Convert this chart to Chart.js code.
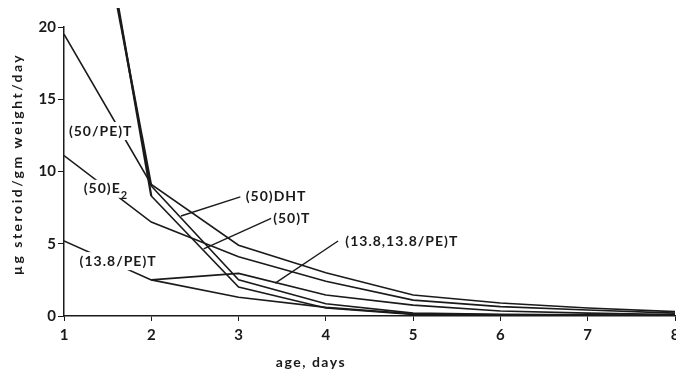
<!DOCTYPE html>
<html>
<head>
<meta charset="utf-8">
<script src="https://cdn.jsdelivr.net/npm/chart.js@4.4.0/dist/chart.umd.min.js"></script>
<style>
html, body { margin: 0; padding: 0; background: #fff; overflow: hidden; }
#wrap { position: absolute; left: 0; top: 0; width: 690px; height: 377px; }
</style>
</head>
<body>
<div id="wrap"><canvas id="steroid" width="690" height="377"></canvas></div>
<script>
/* steroid excretion vs age */
var days = [1, 2, 3, 4, 5, 6, 7, 8];
var pe50T = [19.5, 9.1, 4.9, 3.0, 1.45, 0.9, 0.55, 0.3];
var e2_50 = [11.1, 6.5, 4.1, 2.4, 1.1, 0.65, 0.42, 0.2];
var dht50 = [41, 9.0, 2.5, 0.85, 0.2, 0.12, 0.08, 0.05];
var t50 = [43, 8.3, 2.0, 0.55, 0.1, 0.06, 0.04, 0.02];
var t138 = [null, 2.5, 2.95, 1.45, 0.75, 0.35, 0.2, 0.1];
var pe138T = [5.2, 2.5, 1.3, 0.6, 0.15, 0.08, 0.05, 0.03];
var yTicks = [0, 5, 10, 15, 20];

// in-plot labels (data coords), pointer = [x1, y1, x2, y2]
var labels = [
    { text: '(50/PE)T', x: 1.42, y: 12.8 },
    { text: '(50)E', sub: '2', x: 1.48, y: 8.8 },
    { text: '(13.8/PE)T', x: 1.62, y: 3.8 },
    { text: '(50)DHT', x: 3.43, y: 8.24, pointer: [3.02, 8.24, 2.34, 6.92] },
    { text: '(50)T', x: 3.61, y: 6.78, pointer: [3.38, 6.78, 2.60, 4.64] },
    { text: '(13.8,13.8/PE)T', x: 4.87, y: 5.19, pointer: [4.14, 5.19, 3.42, 2.28] }
];

var ink = '#1a1a1a';
var fontFam = 'Lato, "DejaVu Sans", sans-serif';

function makeSet(vals, firstW) {
    return {
        data: days.map(function (d, i) { return { x: d, y: vals[i] }; }),
        borderColor: ink,
        borderWidth: 1.6,
        segment: {
            borderWidth: function (c) { return (firstW && c.p0DataIndex === 0) ? firstW : 1.6; }
        },
        pointRadius: 0,
        tension: 0,
        fill: false,
        clip: { left: 0, top: 19, right: 0, bottom: 0 }
    };
}

var textPlugin = {
    id: 'textPlugin',
    afterDatasetsDraw: function (chart) {
        var ctx = chart.ctx;
        var xs = chart.scales.x, ys = chart.scales.y;
        var big = 'bold 14px ' + fontFam, small = 'bold 11px ' + fontFam;
        ctx.save();
        ctx.fillStyle = ink;
        ctx.strokeStyle = ink;
        ctx.lineWidth = 1.4;
        ctx.textBaseline = 'middle';
        ctx.font = big;
        ctx.letterSpacing = '1px';
        labels.forEach(function (l) {
            var px = xs.getPixelForValue(l.x), py = ys.getPixelForValue(l.y);
            if (l.pointer) {
                ctx.beginPath();
                ctx.moveTo(xs.getPixelForValue(l.pointer[0]), ys.getPixelForValue(l.pointer[1]));
                ctx.lineTo(xs.getPixelForValue(l.pointer[2]), ys.getPixelForValue(l.pointer[3]));
                ctx.stroke();
            }
            var w = ctx.measureText(l.text).width;
            var sw = 0;
            if (l.sub) {
                ctx.font = small;
                sw = ctx.measureText(l.sub).width;
                ctx.font = big;
            }
            var left = px - (w + sw) / 2;
            ctx.fillStyle = '#fff';
            ctx.fillRect(left - 2, py - 9, w + sw + 4, 18);
            ctx.fillStyle = ink;
            ctx.textAlign = 'left';
            ctx.fillText(l.text, left, py);
            if (l.sub) {
                ctx.font = small;
                ctx.fillText(l.sub, left + w, py + 7);
                ctx.font = big;
            }
        });
        // axis titles
        ctx.letterSpacing = '1.5px';
        ctx.font = 'bold 14px ' + fontFam;
        ctx.textAlign = 'center';
        ctx.fillText('age, days', 311, 362);
        ctx.letterSpacing = '2.5px';
        ctx.translate(17, 164);
        ctx.rotate(-Math.PI / 2);
        ctx.fillText('\u00b5g steroid/gm weight/day', 0, 0);
        ctx.restore();
    }
};

var ctx = document.getElementById('steroid').getContext('2d');
var myChart = new Chart(ctx, {
    type: 'line',
    data: {
        datasets: [
            makeSet(pe50T),
            makeSet(e2_50),
            makeSet(dht50, 2.2),
            makeSet(t50, 2.2),
            makeSet(t138),
            makeSet(pe138T)
        ]
    },
    options: {
        responsive: false,
        animation: false,
        layout: { padding: { top: 27, right: 15, left: 0, bottom: 0 } },
        plugins: { legend: { display: false }, tooltip: { enabled: false } },
        scales: {
            x: {
                type: 'linear',
                min: 1,
                max: 8,
                afterFit: function (s) { s.height = 61; },
                ticks: { stepSize: 1, color: ink, padding: 5, font: { family: fontFam, size: 15, weight: 'bold' } },
                grid: { drawOnChartArea: false, tickLength: 5, color: ink },
                border: { color: ink, width: 1.5 }
            },
            y: {
                min: 0,
                max: 20,
                afterBuildTicks: function (s) { s.ticks = yTicks.map(function (v) { return { value: v }; }); },
                afterFit: function (s) { s.width = 64; },
                ticks: { color: ink, padding: 2, font: { family: fontFam, size: 15, weight: 'bold' } },
                grid: { drawOnChartArea: false, tickLength: 6, color: ink },
                border: { color: ink, width: 1.5 }
            }
        }
    },
    plugins: [textPlugin]
});
</script>
</body>
</html>
